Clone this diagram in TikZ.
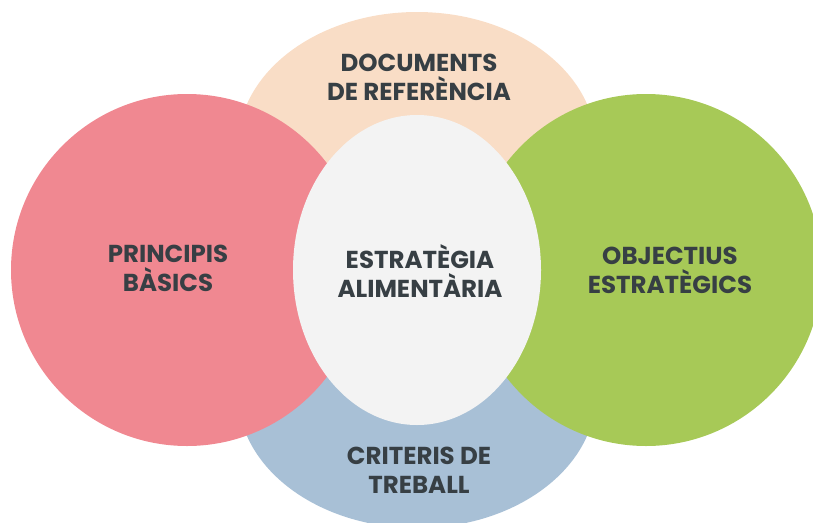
\documentclass[tikz,border=0pt]{standalone}
\usepackage{fontspec}
\setmainfont{Poppins}
\usetikzlibrary{shapes.geometric}
\definecolor{peach}{HTML}{F9DDC6}
\definecolor{bluec}{HTML}{A8C0D6}
\definecolor{pinkc}{HTML}{F08891}
\definecolor{greenc}{HTML}{A7C957}
\definecolor{grayc}{HTML}{F3F3F3}
\definecolor{txt}{HTML}{373F44}
\begin{document}
\begin{tikzpicture}[x=1pt,y=-1pt,
  lbl/.style={text=txt,font=\fontsize{24.5}{28.5}\selectfont\bfseries,align=center,anchor=base,inner sep=0pt}]
\useasboundingbox (0,0) rectangle (813,522);
\fill[peach] (417,146) ellipse [x radius=179, y radius=134];
\fill[bluec] (417,394) ellipse [x radius=179, y radius=134];
\fill[pinkc] (187,270) circle [radius=176];
\fill[greenc] (646,270) circle [radius=176];
\fill[grayc] (417,270) ellipse [x radius=124, y radius=155];
\node[lbl] (doc) at (419,100) {DOCUMENTS\\DE REFERÈNCIA};
\node[lbl] (pri) at (168,291) {PRINCIPIS\\BÀSICS};
\node[lbl] (est) at (420,297) {ESTRATÈGIA\\ALIMENTÀRIA};
\node[lbl] (obj) at (670,293) {OBJECTIUS\\ESTRATÈGICS};
\node[lbl] (cri) at (419,493) {CRITERIS DE\\TREBALL};
\end{tikzpicture}
\end{document}
